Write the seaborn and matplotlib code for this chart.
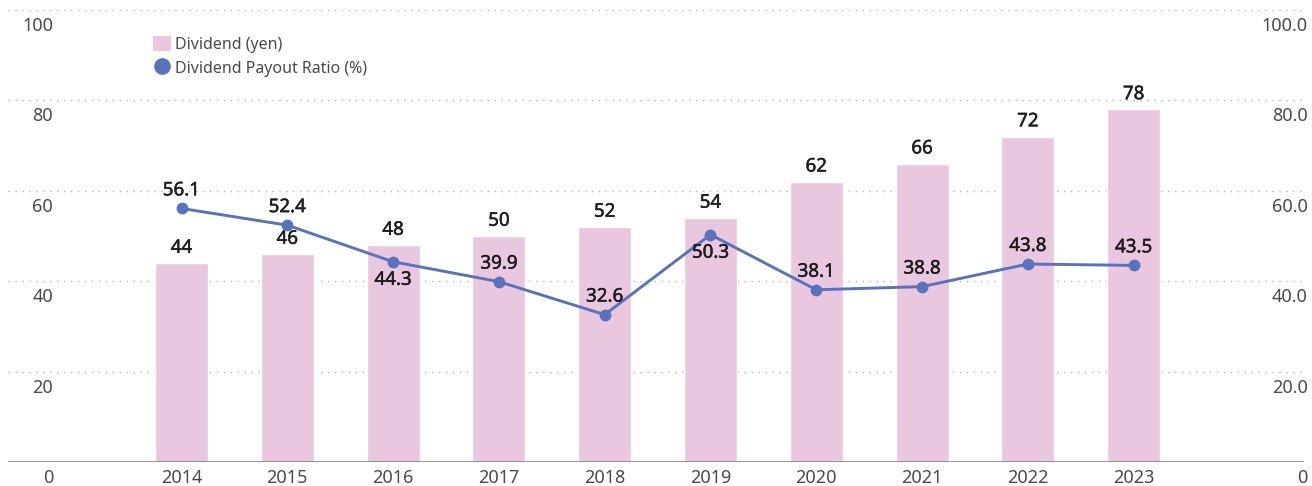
import numpy as np
import pandas as pd
import matplotlib
matplotlib.use("Agg")
import matplotlib.pyplot as plt
import matplotlib.patheffects as pe
from matplotlib.patches import Patch
from matplotlib.lines import Line2D
import seaborn as sns

# Data
years = ["2014", "2015", "2016", "2017", "2018", "2019", "2020", "2021", "2022", "2023"]
dividend = [44, 46, 48, 50, 52, 54, 62, 66, 72, 78]
payout_ratio = [56.1, 52.4, 44.3, 39.9, 32.6, 50.3, 38.1, 38.8, 43.8, 43.5]
# label placement for the payout ratio: 1 = above the point, -1 = below
ratio_label_side = [1, 1, -1, 1, 1, -1, 1, 1, 1, 1]
left_ticks = [0, 20, 40, 60, 80, 100]
left_tick_labels = ["0", "20", "40", "60", "80", "100"]
right_tick_labels = ["0", "20.0", "40.0", "60.0", "80.0", "100.0"]

BAR_COLOR = "#e9c7df"
LINE_COLOR = "#5a72bb"
TEXT_DARK = "#1e1e1e"
TEXT_GRAY = "#4a4a4a"

sns.set_theme(style="white")
plt.rcParams["font.family"] = ["Noto Sans", "DejaVu Sans"]

W, H = 1312, 486
fig = plt.figure(figsize=(W / 100, H / 100), dpi=100)
ax_l, ax_r, ax_b, ax_t = 8, 1304, 462, 10
ax = fig.add_axes([ax_l / W, 1 - ax_b / H, (ax_r - ax_l) / W, (ax_b - ax_t) / H])

df = pd.DataFrame({"year": years, "dividend": dividend, "ratio": payout_ratio})
df["pos"] = np.arange(len(df))

sns.barplot(data=df, x="year", y="dividend", ax=ax, color=BAR_COLOR,
            width=0.5, saturation=1, zorder=2)

ax2 = ax.twinx()
sns.lineplot(data=df, x="pos", y="ratio", ax=ax2, color=LINE_COLOR,
             linewidth=2.1, marker="o", markersize=8.5,
             markeredgewidth=0, zorder=3)

for a in (ax, ax2):
    a.set_ylim(0, 100)
    a.set_xlim(-1.64, len(years) - 1 + 1.61)
    a.set_xlabel("")
    a.set_ylabel("")
    a.set_yticks([])
    for s in a.spines.values():
        s.set_visible(False)
ax.set_xticks([])
ax2.set_xticks([])

# dotted gridlines and solid baseline
for v in left_ticks[1:]:
    ax.axhline(v, color="#b5b5b5", linestyle=(0, (1, 4)), linewidth=1.0, zorder=0)
ax.axhline(0, color="#8a8a8a", linewidth=1.3, zorder=4)

# axis labels placed just below their gridlines
for v, ll, rl in zip(left_ticks, left_tick_labels, right_tick_labels):
    y_fig = 1 - (ax_b - v / 100 * (ax_b - ax_t)) / H
    fig.text(53 / W, y_fig - 16 / H, ll, ha="right", va="center",
             fontsize=13, color=TEXT_GRAY)
    fig.text(1308 / W, y_fig - 16 / H, rl, ha="right", va="center",
             fontsize=13, color=TEXT_GRAY)

# category labels under the baseline
for i, y in enumerate(years):
    ax.annotate(y, (i, 0), xytext=(0, -11.5), textcoords="offset points",
                ha="center", va="center", fontsize=13, color=TEXT_GRAY,
                annotation_clip=False)

# value labels, slightly heavier than regular weight
heavy = [pe.withStroke(linewidth=0.35, foreground=TEXT_DARK)]

for i, v in enumerate(dividend):
    ax.annotate(f"{v}", (i, v), xytext=(0, 4.5), textcoords="offset points",
                ha="center", va="bottom", fontsize=13.5, color=TEXT_DARK,
                zorder=5, path_effects=heavy)

for i, (v, side) in enumerate(zip(payout_ratio, ratio_label_side)):
    ax2.annotate(f"{v:.1f}", (i, v), xytext=(0, 13 * side),
                 textcoords="offset points", ha="center", va="center",
                 fontsize=13.5, color=TEXT_DARK, zorder=6, path_effects=heavy)

handles = [
    Patch(facecolor=BAR_COLOR, edgecolor="none", label="Dividend (yen)"),
    Line2D([], [], color=LINE_COLOR, marker="o", linestyle="none",
           markersize=11, label="Dividend Payout Ratio (%)"),
]
leg = ax2.legend(handles=handles, loc="upper left",
                 bbox_to_anchor=((153 - ax_l) / (ax_r - ax_l), (ax_b - 36) / (ax_b - ax_t)),
                 frameon=False, fontsize=11.5, handlelength=1.1, handleheight=1.1,
                 handletextpad=0.25, labelspacing=0.42, borderaxespad=0,
                 borderpad=0)
for t in leg.get_texts():
    t.set_color(TEXT_GRAY)

fig.savefig("out.png", dpi=100)
